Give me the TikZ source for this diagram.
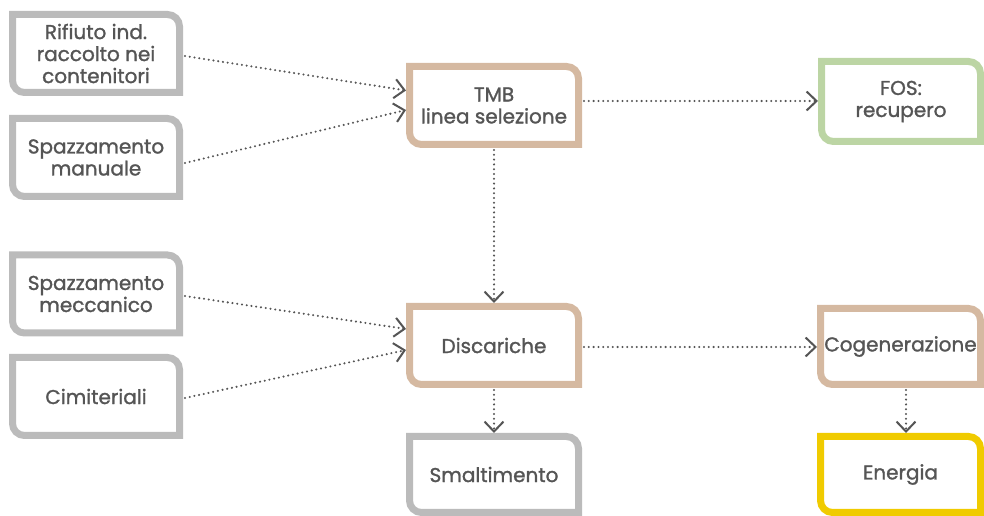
\documentclass[tikz,border=0pt]{standalone}
\usepackage{fontspec}
\setmainfont{Poppins}[FakeBold=1.3]
\usetikzlibrary{arrows.meta,calc}
\definecolor{txt}{HTML}{555555}
\definecolor{cgray}{HTML}{BBBBBB}
\definecolor{ctan}{HTML}{D5B9A1}
\definecolor{cgreen}{HTML}{BCD5A4}
\definecolor{cyellow}{HTML}{F0CB00}
\tikzset{
  lbl/.style={inner sep=0pt, outer sep=0pt, align=center, text=txt,
    font=\fontsize{20}{22}\selectfont, minimum width=174pt, minimum height=85pt},
  conn/.style={draw=txt, line width=2.3pt, line cap=round, dash pattern=on 0pt off 4.8pt,
    -{Straight Barb[length=10pt,width=19pt,line width=2pt]}},
}
\newcommand\shapeborder[2]{%
  \draw[#2, line width=7pt] ($(#1.north west)+(3.5,-3.5)$) -- ($(#1.north east)+(-15.5,-3.5)$)
    arc[start angle=90,end angle=0,radius=12pt] -- ($(#1.south east)+(-3.5,3.5)$)
    -- ($(#1.south west)+(15.5,3.5)$) arc[start angle=270,end angle=180,radius=12pt] -- cycle;}
\begin{document}
\begin{tikzpicture}[x=1pt,y=1pt]
\useasboundingbox (0,0) rectangle (984,516);
\node[lbl] (rif) at (96,462.5) {Rifiuto ind.\\raccolto nei\\contenitori};
\node[lbl] (man) at (96,358.5) {Spazzamento\\manuale};
\node[lbl] (mec) at (96,222) {Spazzamento\\meccanico};
\node[lbl] (cim) at (96,119.5) {Cimiteriali};
\node[lbl, minimum width=176pt] (tmb) at (494,410.5) {TMB\\linea selezione};
\node[lbl, minimum width=166pt, minimum height=87pt] (fos) at (901,414.5) {FOS:\\recupero};
\node[lbl, minimum width=176pt] (dis) at (494,170.5) {Discariche};
\node[lbl, minimum width=176pt, minimum height=83pt] (sma) at (494,41.5) {Smaltimento};
\node[lbl, minimum width=167pt, minimum height=83pt] (cog) at (900.5,169.5) {Cogenerazione};
\node[lbl, minimum width=167pt, minimum height=83pt] (ene) at (900.5,41.5) {Energia};
\shapeborder{rif}{cgray}
\shapeborder{man}{cgray}
\shapeborder{mec}{cgray}
\shapeborder{cim}{cgray}
\shapeborder{tmb}{ctan}
\shapeborder{fos}{cgreen}
\shapeborder{dis}{ctan}
\shapeborder{sma}{cgray}
\shapeborder{cog}{ctan}
\shapeborder{ene}{cyellow}
\draw[conn] ([xshift=2pt,yshift=-2.5pt]rif.east) -- ([yshift=15pt]tmb.west);
\draw[conn] ([xshift=2pt,yshift=-5.5pt]man.east) -- ([yshift=-4.5pt]tmb.west);
\draw[conn] ([xshift=2pt,yshift=-2pt]mec.east) -- ([yshift=16.5pt]dis.west);
\draw[conn] ([xshift=2pt,yshift=-1.5pt]cim.east) -- ([yshift=-4.5pt]dis.west);
\draw[conn] ([yshift=-2pt]tmb.south) -- (dis.north);
\draw[conn] ([xshift=2pt,yshift=4.5pt]tmb.east) -- ([yshift=0.5pt]fos.west);
\draw[conn] ([xshift=2pt,yshift=-1.5pt]dis.east) -- ([yshift=-0.5pt]cog.west);
\draw[conn] ([yshift=-2pt]dis.south) -- (sma.north);
\draw[conn] ([xshift=5.5pt,yshift=-2pt]cog.south) -- ([xshift=5.5pt]ene.north);
\end{tikzpicture}
\end{document}
